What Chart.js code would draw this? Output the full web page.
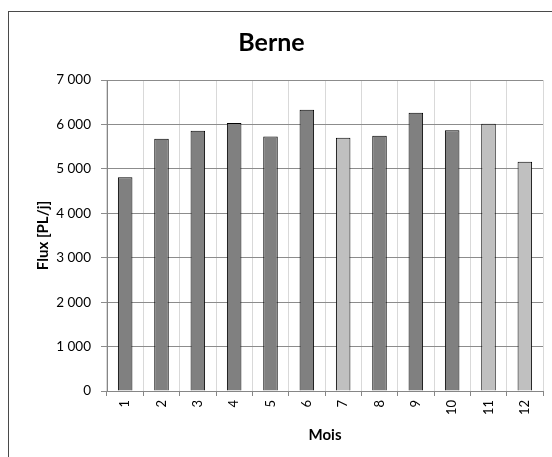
<!DOCTYPE html>
<html><head><meta charset="utf-8">
<script src="https://cdn.jsdelivr.net/npm/chart.js@4/dist/chart.umd.min.js"></script>
<style>html,body{margin:0;padding:0;background:#fff;}</style>
</head><body>
<canvas id="c" width="552" height="457"></canvas>
<script>
const months = ['1','2','3','4','5','6','7','8','9','10','11','12'];
const flux = [4810, 5680, 5860, 6030, 5730, 6330, 5700, 5745, 6265, 5870, 6015, 5160];
const lightMonths = ['7','11','12'];
const yMin = 0, yMax = 7000, yStep = 1000;

const DARK = '#808080', LIGHT = '#c0c0c0';
const fmt = v => String(v).replace(/\B(?=(\d{3})+(?!\d))/g, ' ');

const frame = {
  id: 'frame',
  beforeDraw(chart) {
    const ctx = chart.ctx;
    ctx.save();
    ctx.fillStyle = '#fff';
    ctx.fillRect(0, 0, chart.width, chart.height);
    ctx.strokeStyle = '#4a4a4a';
    ctx.lineWidth = 1;
    ctx.strokeRect(8.5, 11.5, 700, 600);
    ctx.restore();
  }
};

new Chart(document.getElementById('c'), {
  type: 'bar',
  data: {
    labels: months,
    datasets: [{
      data: flux,
      backgroundColor: months.map(m => lightMonths.includes(m) ? LIGHT : DARK),
      borderColor: '#000',
      borderWidth: 1,
      barPercentage: 0.4,
      categoryPercentage: 1
    }]
  },
  options: {
    responsive: false,
    animation: false,
    devicePixelRatio: 1,
    layout: { padding: { left: 0, right: 9, top: 0, bottom: 0 } },
    plugins: {
      legend: { display: false },
      tooltip: { enabled: false },
      title: {
        display: true,
        text: 'Berne',
        color: '#000',
        font: { family: 'Lato', size: 25, weight: 'bold', lineHeight: 1.2 },
        padding: { top: 28, bottom: 22 }
      }
    },
    scales: {
      x: {
        grid: { color: '#d9d9d9', tickColor: '#868686', tickLength: 5, offset: true },
        border: { color: '#868686' },
        ticks: {
          color: '#000', minRotation: 90, maxRotation: 90, padding: 4,
          font: { family: 'Lato', size: 13 }
        },
        title: {
          display: true, text: 'Mois', color: '#000',
          font: { family: 'Lato', size: 15, weight: 'bold', lineHeight: 1.2 },
          padding: { top: 0, bottom: 13 }
        },
        afterFit(s) { s.height = 66; }
      },
      y: {
        min: yMin, max: yMax,
        grid: { color: '#8c8c8c', tickColor: '#8c8c8c', tickLength: 6 },
        border: { color: '#868686' },
        ticks: {
          stepSize: yStep, color: '#000', padding: 10,
          font: { family: 'Lato', size: 13.5 },
          callback: v => fmt(v)
        },
        title: {
          display: true, text: 'Flux [PL/j]', color: '#000',
          font: { family: 'Lato', size: 15, weight: 'bold', lineHeight: 1.2 },
          padding: { top: 34, bottom: 0 }
        },
        afterFit(s) { s.width = 107; }
      }
    }
  },
  plugins: [frame]
});
</script>
</body></html>
